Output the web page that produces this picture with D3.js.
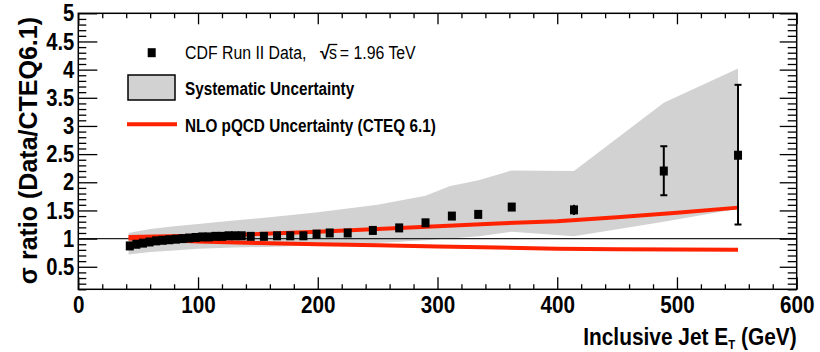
<!DOCTYPE html>
<html>
<head>
<meta charset="utf-8">
<script src="https://cdn.jsdelivr.net/npm/d3@7/dist/d3.min.js"></script>
<style>
  body { margin: 0; background: #fff; }
  text { font-family: "Liberation Sans Narrow", "Arial Narrow", "Liberation Sans", sans-serif; }
</style>
</head>
<body>
<svg id="chart" width="820" height="352"></svg>
<script>
// CDF data / CTEQ 6.1 ratio
const jetEt = [43, 48.5, 54, 59.5, 65, 70.5, 76, 81.5, 87, 92.5, 98, 103.5, 109, 114.5, 120, 125.5, 131, 136.5,
  144, 155, 166, 177, 188, 199, 210, 225, 246, 268, 290, 312, 334, 362, 414, 489, 551];
const ratio = [0.87, 0.90, 0.92, 0.94, 0.96, 0.97, 0.98, 0.99, 1.00, 1.01, 1.02, 1.03, 1.03, 1.04, 1.04, 1.05, 1.05, 1.05,
  1.04, 1.04, 1.05, 1.05, 1.05, 1.08, 1.10, 1.10, 1.145, 1.19, 1.28, 1.40, 1.43, 1.56, 1.51, 2.20, 2.48];
const errUp = [0.03, 0.02, 0.02, 0.02, 0.02, 0.02, 0.02, 0.02, 0.02, 0.02, 0.02, 0.02, 0.02, 0.02, 0.02, 0.02, 0.02, 0.02,
  0.02, 0.02, 0.02, 0.02, 0.02, 0.02, 0.02, 0.02, 0.02, 0.03, 0.03, 0.03, 0.04, 0.05, 0.09, 0.44, 1.25];
const errDown = [0.03, 0.02, 0.02, 0.02, 0.02, 0.02, 0.02, 0.02, 0.02, 0.02, 0.02, 0.02, 0.02, 0.02, 0.02, 0.02, 0.02, 0.02,
  0.02, 0.02, 0.02, 0.02, 0.02, 0.02, 0.02, 0.02, 0.02, 0.03, 0.03, 0.03, 0.04, 0.05, 0.09, 0.43, 1.23];

// systematic uncertainty band
const bandEt = [42, 60, 80, 100, 130, 170, 200, 250, 290, 310, 335, 362, 414, 489, 551];
const bandLow = [0.72, 0.76, 0.79, 0.82, 0.84, 0.86, 0.88, 0.92, 0.97, 1.00, 1.04, 1.12, 1.04, 1.30, 1.53];
const bandHigh = [1.10, 1.17, 1.22, 1.26, 1.32, 1.40, 1.47, 1.60, 1.76, 1.93, 2.04, 2.21, 2.20, 3.41, 4.02];

// NLO pQCD uncertainty (CTEQ 6.1)
const nloEt = [42, 100, 150, 200, 250, 300, 350, 400, 450, 500, 551];
const nloUp = [1.03, 1.05, 1.08, 1.12, 1.17, 1.22, 1.27, 1.31, 1.38, 1.46, 1.55];
const nloDown = [1.00, 0.95, 0.92, 0.90, 0.88, 0.86, 0.84, 0.82, 0.81, 0.805, 0.80];

const xTicks = [0, 100, 200, 300, 400, 500, 600];
const yTicks = [0.5, 1, 1.5, 2, 2.5, 3, 3.5, 4, 4.5, 5];

const margin = {top: 13.3, right: 23.3, bottom: 62.7, left: 78.3};
const width = 820 - margin.left - margin.right;
const height = 352 - margin.top - margin.bottom;
const red = "#ff2200";

// the original uses a narrow font, squeeze the text horizontally
function condense(sel, f) {
  sel.each(function() {
    const len = this.getComputedTextLength();
    d3.select(this).attr("textLength", len * f).attr("lengthAdjust", "spacingAndGlyphs");
  });
}

const svg = d3.select("#chart")
  .append("g")
  .attr("transform", "translate(" + margin.left + "," + margin.top + ")");

const x = d3.scaleLinear().domain([0, 600]).range([0, width]);
const y = d3.scaleLinear().domain([0.1, 5]).range([height, 0]);

// band
const band = bandEt.map((e, i) => ({et: e, lo: bandLow[i], hi: bandHigh[i]}));
svg.append("path")
  .datum(band)
  .attr("fill", "#d2d2d2")
  .attr("d", d3.area().x(d => x(d.et)).y0(d => y(d.lo)).y1(d => y(d.hi)));

// ratio = 1 line
svg.append("line")
  .attr("x1", 0).attr("x2", width)
  .attr("y1", y(1)).attr("y2", y(1))
  .attr("stroke", "#222").attr("stroke-width", 1.3);

// NLO lines
const nloLine = d3.line().x(d => x(d[0])).y(d => y(d[1]));
[nloUp, nloDown].forEach(vals => {
  svg.append("path")
    .datum(nloEt.map((e, i) => [e, vals[i]]))
    .attr("fill", "none")
    .attr("stroke", red)
    .attr("stroke-width", 4)
    .attr("d", nloLine);
});

// data points
const pts = jetEt.map((e, i) => ({et: e, r: ratio[i], up: errUp[i], dn: errDown[i]}));
const dots = svg.append("g");
dots.selectAll("line.err")
  .data(pts)
  .enter().append("line")
  .attr("x1", d => x(d.et)).attr("x2", d => x(d.et))
  .attr("y1", d => y(d.r + d.up)).attr("y2", d => y(d.r - d.dn))
  .attr("stroke", "#000").attr("stroke-width", 2);
pts.filter(d => d.up > 0.2).forEach(d => {
  [d.r + d.up, d.r - d.dn].forEach(v => {
    dots.append("line")
      .attr("x1", x(d.et) - 3.5).attr("x2", x(d.et) + 3.5)
      .attr("y1", y(v)).attr("y2", y(v))
      .attr("stroke", "#000").attr("stroke-width", 2);
  });
});
dots.selectAll("rect")
  .data(pts)
  .enter().append("rect")
  .attr("x", d => x(d.et) - 4)
  .attr("y", d => y(d.r) - 4.5)
  .attr("width", 8).attr("height", 9)
  .attr("fill", "#000");

// axes: major and minor ticks, mirrored on top/right
const xMinor = d3.range(0, 601, 20).filter(v => v % 100 !== 0);
const yMinor = d3.range(1, 51).map(v => v / 10).filter(v => Math.round(v * 10) % 5 !== 0);

function styleAxis(g) {
  g.select(".domain").remove();
  g.selectAll("line").attr("stroke", "#000").attr("stroke-width", 1.3);
  g.selectAll("text")
    .attr("fill", "#000")
    .style("font-size", "24px")
    .style("font-weight", "bold");
}

svg.append("g").attr("transform", "translate(0," + height + ")")
  .call(d3.axisBottom(x).tickValues(xTicks).tickSize(-12).tickPadding(7).tickFormat(d3.format("d")))
  .call(styleAxis)
  .call(g => condense(g.selectAll("text"), 0.86));
svg.append("g").attr("transform", "translate(0," + height + ")")
  .call(d3.axisBottom(x).tickValues(xMinor).tickSize(-5).tickFormat(""))
  .call(styleAxis);
svg.append("g")
  .call(d3.axisTop(x).tickValues(xTicks).tickSize(-11).tickFormat(""))
  .call(styleAxis);
svg.append("g")
  .call(d3.axisTop(x).tickValues(xMinor).tickSize(-5).tickFormat(""))
  .call(styleAxis);

svg.append("g")
  .call(d3.axisLeft(y).tickValues(yTicks).tickSize(-19).tickPadding(4).tickFormat(d => String(d)))
  .call(styleAxis)
  .call(g => condense(g.selectAll("text"), 0.84));
svg.append("g")
  .call(d3.axisLeft(y).tickValues(yMinor).tickSize(-8).tickFormat(""))
  .call(styleAxis);
svg.append("g").attr("transform", "translate(" + width + ",0)")
  .call(d3.axisRight(y).tickValues(yTicks).tickSize(-17).tickFormat(""))
  .call(styleAxis);
svg.append("g").attr("transform", "translate(" + width + ",0)")
  .call(d3.axisRight(y).tickValues(yMinor).tickSize(-9).tickFormat(""))
  .call(styleAxis);

// frame
svg.append("rect")
  .attr("width", width).attr("height", height)
  .attr("fill", "none").attr("stroke", "#000").attr("stroke-width", 1.5);

// axis titles
const xt = svg.append("text")
  .attr("x", width).attr("y", 345 - margin.top)
  .attr("text-anchor", "end")
  .style("font-size", "24px").style("font-weight", "bold");
xt.append("tspan").text("Inclusive Jet E");
xt.append("tspan").attr("dy", 4).style("font-size", "13px").text("T");
xt.append("tspan").attr("dy", -4).text(" (GeV)");
condense(xt, 0.87);

svg.append("text")
  .attr("transform", "rotate(-90)")
  .attr("x", -(17 - margin.top))
  .attr("y", 37 - margin.left)
  .attr("text-anchor", "end")
  .style("font-size", "25px").style("font-weight", "bold")
  .text("\u03c3 ratio (Data/CTEQ6.1)");

// legend
const leg = d3.select("#chart").append("g");
leg.append("rect").attr("x", 147.7).attr("y", 48.2).attr("width", 8).attr("height", 9).attr("fill", "#000");
leg.append("text").attr("x", 185).attr("y", 58.5)
  .style("font-size", "18px").text("CDF Run II Data,")
  .call(t => condense(t, 0.88));
const root = leg.append("text").attr("x", 320).attr("y", 58.5)
  .style("font-size", "18px").style("font-weight", "bold").text("\u221a");
const rootW = root.node().getComputedTextLength();
const sText = leg.append("text").attr("x", 320 + rootW - 1).attr("y", 58.5)
  .style("font-size", "18px").text("s");
const sW = sText.node().getComputedTextLength() * 0.88;
condense(sText, 0.88);
leg.append("line")
  .attr("x1", 320 + rootW - 1.5).attr("x2", 320 + rootW + sW - 0.5)
  .attr("y1", 44.5).attr("y2", 44.5)
  .attr("stroke", "#000").attr("stroke-width", 1.3);
leg.append("text").attr("x", 320 + rootW + sW + 2).attr("y", 58.5)
  .style("font-size", "18px").text("= 1.96 TeV")
  .call(t => condense(t, 0.88));

leg.append("rect").attr("x", 128).attr("y", 75).attr("width", 47).attr("height", 25)
  .attr("fill", "#d2d2d2").attr("stroke", "#000").attr("stroke-width", 1.5);
leg.append("text").attr("x", 185).attr("y", 95)
  .style("font-size", "18px").style("font-weight", "bold").text("Systematic Uncertainty")
  .call(t => condense(t, 0.85));

leg.append("line").attr("x1", 127).attr("x2", 177).attr("y1", 124.3).attr("y2", 124.3)
  .attr("stroke", red).attr("stroke-width", 4);
leg.append("text").attr("x", 185).attr("y", 131.7)
  .style("font-size", "18px").style("font-weight", "bold").text("NLO pQCD Uncertainty (CTEQ 6.1)")
  .call(t => condense(t, 0.85));
</script>
</body>
</html>
